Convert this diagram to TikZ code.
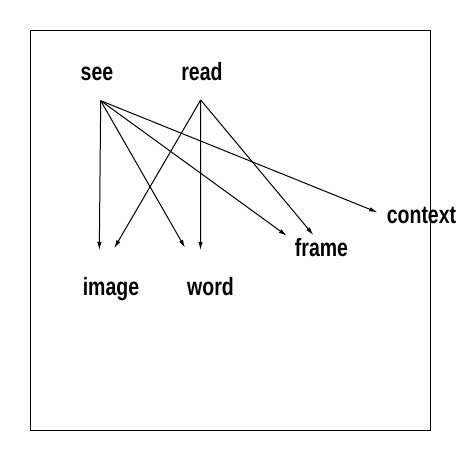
\documentclass[tikz,border=0pt]{standalone}
\usepackage{fontspec}
\setmainfont{Liberation Sans}[FakeStretch=0.78]
\usetikzlibrary{arrows.meta}
\begin{document}
\begin{tikzpicture}[x=1pt,y=-1pt,line width=1pt,>={Latex[length=8pt,width=4.5pt]},
    every node/.style={font=\fontsize{25}{25}\selectfont\bfseries, anchor=base, inner sep=0pt}]
        \useasboundingbox (0,0) rectangle (460,460);
        % Frame
        \draw (30.5,30.5) rectangle (430,430);
        
        % Words
        \node (see) at (97,80) {see};
        \node (read) at (202,80) {read};
        \node (image) at (111,295) {image};
        \node (word) at (210.5,295) {word};
        \node (frame) at (321.5,256.5) {frame};
        \node (context) at (421.5,223) {context};
        
        % Arrow start points
        \coordinate (seeout) at (100.7,100.7);
        \coordinate (readout) at (200.7,100);
        
        % Arrow end points
        \coordinate (imageA) at (99.3,250);
        \coordinate (imageB) at (114.3,248);
        \coordinate (wordA) at (185,247.7);
        \coordinate (wordB) at (200.5,250);
        \coordinate (frameA) at (286.7,235.7);
        \coordinate (frameB) at (313.3,235);
        \coordinate (contextA) at (377.3,212.3);
        
        % Arrows from see
        \foreach \t in {imageA,wordA,frameA,contextA} {
            \draw[->] (seeout) -- (\t);
        }
        
        % Arrows from read
        \foreach \t in {imageB,wordB,frameB} {
            \draw[->] (readout) -- (\t);
        }
\end{tikzpicture}
\end{document}
